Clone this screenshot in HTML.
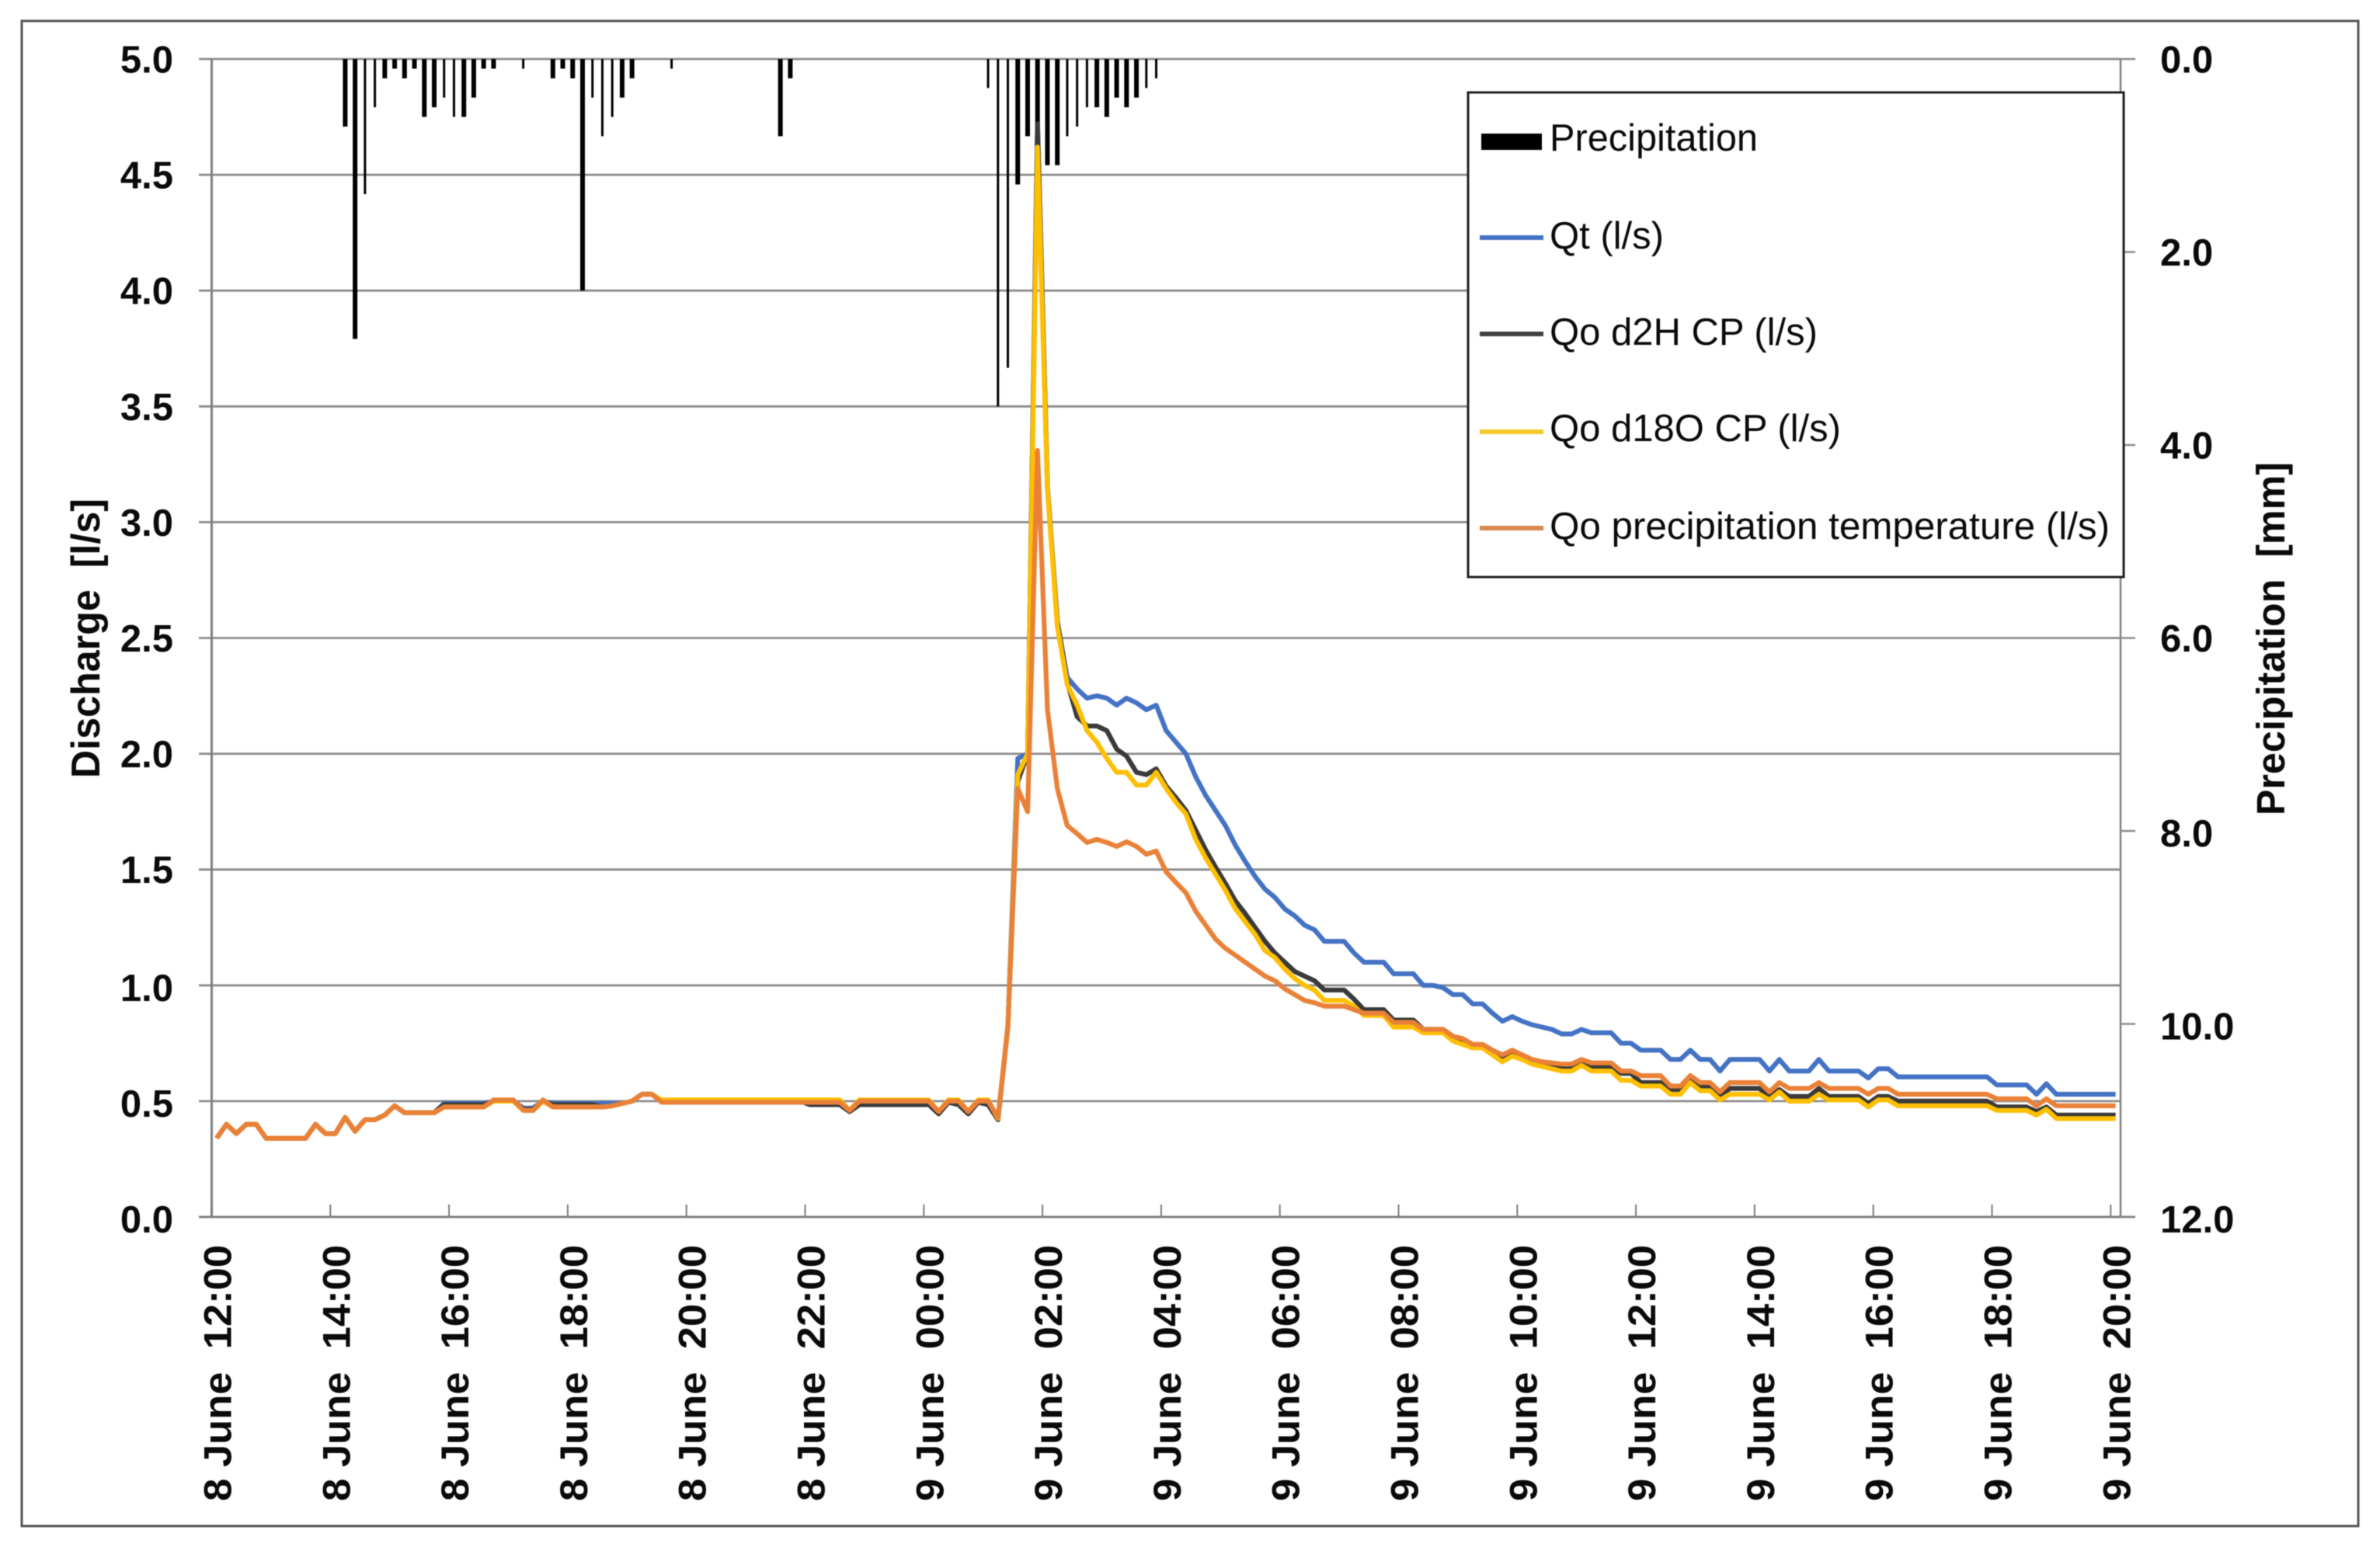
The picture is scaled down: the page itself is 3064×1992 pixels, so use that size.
<!DOCTYPE html>
<html lang="en">
<head>
<meta charset="utf-8">
<title>Discharge and precipitation, 8–9 June</title>
<style>
html,body{margin:0;padding:0;background:#fff;}
svg{display:block;filter:blur(0.6px);}
text{font-family:"Liberation Sans",Arial,sans-serif;fill:#0a0a0a;white-space:pre;}
.b{font-weight:bold;}
</style>
</head>
<body>
<svg id="chart" xmlns="http://www.w3.org/2000/svg" width="3064" height="1992" viewBox="0 0 3064 1992">
<rect x="0" y="0" width="3064" height="1992" fill="#fff"/>
<rect x="28" y="27" width="3008" height="1938" fill="#fff" stroke="#555" stroke-width="3"/>
<g id="grid"></g>
<g id="bars"></g>
<g id="axes"></g>
<g id="lines"></g>
<g id="labels"></g>
<text class="b" font-size="52" transform="translate(128,1002) rotate(-90)" textLength="360" lengthAdjust="spacingAndGlyphs">Discharge  [l/s]</text>
<text class="b" font-size="51" transform="translate(2941,1050) rotate(-90)" textLength="455" lengthAdjust="spacingAndGlyphs">Precipitation  [mm]</text>
<g>
<rect x="1890" y="119" width="844" height="624" fill="#fff" stroke="#222" stroke-width="3"/>
<rect x="1907" y="172" width="78" height="21" fill="#000"/>
<text x="1995" y="194" font-size="49" textLength="268" lengthAdjust="spacingAndGlyphs">Precipitation</text>
<line x1="1905" y1="306" x2="1987" y2="306" stroke="#4472c4" stroke-width="6"/>
<text x="1995" y="320" font-size="49">Qt (l/s)</text>
<line x1="1905" y1="430" x2="1987" y2="430" stroke="#404040" stroke-width="6"/>
<text x="1995" y="444" font-size="49">Qo d2H CP (l/s)</text>
<line x1="1905" y1="556" x2="1987" y2="556" stroke="#f2c92a" stroke-width="6"/>
<text x="1995" y="568" font-size="49">Qo d18O CP (l/s)</text>
<line x1="1905" y1="680" x2="1987" y2="680" stroke="#d9874a" stroke-width="6"/>
<text x="1995" y="694" font-size="49" textLength="721" lengthAdjust="spacingAndGlyphs">Qo precipitation temperature (l/s)</text>
</g>
</svg>
<script>
var dischargeTicks = [0, 0.5, 1, 1.5, 2, 2.5, 3, 3.5, 4, 4.5, 5];
var precipTicks = [0, 2, 4, 6, 8, 10, 12];
var timeLabels = ['8 June  12:00','8 June  14:00','8 June  16:00','8 June  18:00','8 June  20:00','8 June  22:00','9 June  00:00','9 June  02:00','9 June  04:00','9 June  06:00','9 June  08:00','9 June  10:00','9 June  12:00','9 June  14:00','9 June  16:00','9 June  18:00','9 June  20:00'];
var precipIndex = [13,14,15,16,17,18,19,20,21,22,23,24,25,26,27,28,31,34,35,36,37,38,39,40,41,42,46,57,58,78,79,80,81,82,83,84,85,86,87,88,89,90,91,92,93,94,95];
var precipValues = [0.7,2.9,1.4,0.5,0.2,0.1,0.2,0.1,0.6,0.5,0.4,0.6,0.6,0.4,0.1,0.1,0.1,0.2,0.1,0.2,2.4,0.4,0.8,0.6,0.4,0.2,0.1,0.8,0.2,0.3,3.6,3.2,1.3,0.8,1.0,1.1,1.1,0.8,0.7,0.5,0.5,0.6,0.4,0.5,0.4,0.3,0.2];
var qt = [
.34,.40,.36,.40,.40,.34,.34,.34,.34,.34,
.40,.36,.36,.43,.37,.42,.42,.44,.48,.45,
.45,.45,.45,.49,.49,.49,.49,.49,.50,.50,
.50,.47,.47,.50,.49,.49,.49,.49,.49,.49,
.49,.49,.50,.53,.53,.50,.50,.50,.50,.50,
.50,.50,.50,.50,.50,.50,.50,.50,.50,.50,
.49,.49,.49,.49,.46,.49,.49,.49,.49,.49,
.49,.49,.49,.45,.50,.49,.45,.50,.49,.42,
.82,1.98,2.00,4.72,3.15,2.57,2.33,2.28,2.24,2.25,
2.24,2.21,2.24,2.22,2.19,2.21,2.10,2.05,2.00,1.90,
1.82,1.755,1.69,1.605,1.535,1.47,1.415,1.38,1.33,1.30,
1.26,1.24,1.19,1.19,1.19,1.14,1.10,1.10,1.10,1.05,
1.05,1.05,1.00,1.00,.99,.96,.96,.92,.92,.88,
.845,.865,.845,.83,.82,.81,.79,.79,.81,.795,
.795,.795,.75,.75,.72,.72,.72,.68,.68,.72,
.68,.68,.63,.68,.68,.68,.68,.63,.68,.63,
.63,.63,.68,.63,.63,.63,.63,.60,.64,.64,
.605,.605,.605,.605,.605,.605,.605,.605,.605,.605,
.57,.57,.57,.57,.53,.575,.53,.53,.53,.53,
.53,.53,.53];
var qoD2H = [
.34,.40,.36,.40,.40,.34,.34,.34,.34,.34,
.40,.36,.36,.43,.37,.42,.42,.44,.48,.45,
.45,.45,.45,.485,.485,.485,.485,.485,.50,.50,
.50,.465,.465,.50,.485,.485,.485,.485,.485,.475,
.48,.49,.50,.53,.53,.50,.50,.50,.50,.50,
.50,.50,.50,.50,.50,.50,.50,.50,.50,.50,
.485,.485,.485,.485,.455,.485,.485,.485,.485,.485,
.485,.485,.485,.445,.495,.485,.445,.495,.485,.42,
.82,1.88,2.00,4.72,3.15,2.57,2.31,2.16,2.12,2.12,
2.10,2.02,1.99,1.92,1.91,1.935,1.86,1.81,1.755,1.67,
1.585,1.51,1.44,1.365,1.31,1.25,1.19,1.14,1.10,1.06,
1.04,1.02,.98,.98,.98,.94,.895,.895,.895,.85,
.85,.85,.81,.81,.81,.78,.76,.74,.74,.72,
.69,.70,.68,.67,.66,.65,.64,.64,.67,.65,
.65,.65,.62,.62,.58,.58,.58,.55,.55,.59,
.56,.56,.515,.555,.555,.555,.555,.515,.55,.52,
.52,.52,.555,.52,.52,.52,.52,.49,.52,.52,
.50,.50,.50,.50,.50,.50,.50,.50,.50,.50,
.475,.475,.475,.475,.455,.475,.44,.44,.44,.44,
.44,.44,.44];
var qoD18O = [
.34,.40,.36,.40,.40,.34,.34,.34,.34,.34,
.40,.36,.36,.43,.37,.42,.42,.44,.48,.45,
.45,.45,.45,.475,.475,.475,.475,.475,.50,.50,
.50,.46,.46,.50,.475,.475,.475,.475,.475,.475,
.48,.49,.50,.53,.53,.505,.505,.505,.505,.505,
.505,.505,.505,.505,.505,.505,.505,.505,.505,.505,
.505,.505,.505,.505,.46,.505,.505,.505,.505,.505,
.505,.505,.505,.455,.505,.505,.455,.505,.505,.425,
.82,1.91,2.00,4.62,3.14,2.55,2.30,2.21,2.10,2.05,
1.98,1.92,1.92,1.865,1.865,1.92,1.85,1.79,1.74,1.63,
1.55,1.48,1.41,1.33,1.275,1.22,1.15,1.12,1.07,1.03,
1.00,.98,.935,.935,.935,.91,.87,.87,.87,.82,
.82,.82,.795,.795,.795,.76,.745,.73,.73,.70,
.67,.695,.68,.66,.65,.64,.63,.63,.655,.63,
.63,.63,.59,.59,.565,.565,.565,.53,.53,.58,
.545,.545,.505,.53,.53,.53,.53,.505,.54,.50,
.50,.50,.53,.505,.505,.505,.505,.475,.505,.505,
.48,.48,.48,.48,.48,.48,.48,.48,.48,.48,
.46,.46,.46,.46,.44,.465,.425,.425,.425,.425,
.425,.425,.425];
var qoTemperature = [
.34,.40,.36,.40,.40,.34,.34,.34,.34,.34,
.40,.36,.36,.43,.37,.42,.42,.44,.48,.45,
.45,.45,.45,.475,.475,.475,.475,.475,.505,.505,
.505,.46,.46,.505,.475,.475,.475,.475,.475,.475,
.48,.49,.50,.53,.53,.495,.495,.495,.495,.495,
.495,.495,.495,.495,.495,.495,.495,.495,.495,.495,
.495,.495,.495,.495,.46,.50,.50,.50,.50,.50,
.50,.50,.50,.455,.50,.50,.455,.50,.50,.43,
.82,1.85,1.75,3.31,2.19,1.85,1.69,1.655,1.617,1.63,
1.617,1.60,1.62,1.60,1.566,1.58,1.49,1.444,1.40,1.32,
1.26,1.20,1.16,1.13,1.10,1.07,1.04,1.02,.985,.96,
.935,.925,.91,.91,.91,.895,.88,.88,.88,.84,
.84,.84,.81,.81,.81,.78,.77,.745,.745,.72,
.70,.72,.70,.68,.67,.665,.66,.66,.68,.665,
.665,.665,.63,.63,.61,.61,.61,.565,.565,.61,
.58,.58,.54,.58,.58,.58,.58,.54,.58,.555,
.555,.555,.58,.555,.555,.555,.555,.53,.555,.555,
.53,.53,.53,.53,.53,.53,.53,.53,.53,.53,
.51,.51,.51,.51,.48,.51,.48,.48,.48,.48,
.48,.48,.48];

var NS = 'http://www.w3.org/2000/svg';
var plotLeft = 272.5, plotRight = 2730, plotTop = 76, plotBottom = 1567;
var step = (plotRight - plotLeft) / qt.length;
function xCat(i) { return plotLeft + step * (i + 0.5); }
function xEdge(i) { return plotLeft + step * i; }
function yDischarge(v) { return plotBottom - (plotBottom - plotTop) * v / 5; }
function yPrecip(v) { return plotTop + (plotBottom - plotTop) * v / 12; }
function make(tag, parent, attrs, text) {
  var el = document.createElementNS(NS, tag);
  for (var k in attrs) { el.setAttribute(k, attrs[k]); }
  if (text !== undefined) { el.textContent = text; }
  parent.appendChild(el);
  return el;
}
var gGrid = document.getElementById('grid');
var gBars = document.getElementById('bars');
var gAxes = document.getElementById('axes');
var gLines = document.getElementById('lines');
var gLabels = document.getElementById('labels');

dischargeTicks.forEach(function (t) {
  var y = yDischarge(t);
  if (t > 0) {
    var gl = make('line', gGrid, {x1: plotLeft, y1: y, x2: plotRight, y2: y, stroke: '#8c8c8c', 'stroke-width': 2.8});
    
    
  }
  var tk = make('line', gAxes, {x1: 256, y1: y, x2: plotLeft, y2: y, stroke: '#8c8c8c', 'stroke-width': 2.8});
  
  
  var lb = make('text', gLabels, {x: 223, y: y + (t >= 1.5 ? 17.5 : 20), 'text-anchor': 'end', 'font-size': 49, 'class': 'b'}, t.toFixed(1));
  
  
});

precipIndex.forEach(function (idx, n) {
  var m = idx % 8;
  var thin = m === 7 || m === 0 || (m === 6 && idx > 30);
  var w = thin ? 3 : 6;
  var bar = make('rect', gBars, {x: xCat(idx) - w / 2, y: plotTop, width: w, height: yPrecip(precipValues[n]) - plotTop, fill: '#000'});
  
  
});

var leftAxis = make('line', gAxes, {x1: plotLeft, y1: plotTop, x2: plotLeft, y2: plotBottom, stroke: '#808080', 'stroke-width': 3});


var rightAxis = make('line', gAxes, {x1: plotRight, y1: plotTop, x2: plotRight, y2: plotBottom, stroke: '#808080', 'stroke-width': 2.5});


var xAxis = make('line', gAxes, {x1: 256, y1: plotBottom, x2: 2749, y2: plotBottom, stroke: '#808080', 'stroke-width': 3});



precipTicks.forEach(function (t) {
  var y = yPrecip(t);
  var tk = make('line', gAxes, {x1: plotRight, y1: y, x2: 2749, y2: y, stroke: '#8c8c8c', 'stroke-width': 2.5});
  
  
  var lb = make('text', gLabels, {x: 2781, y: y + (t <= 6 ? 17.5 : 20), 'font-size': 49, 'class': 'b'}, t.toFixed(1));
  
  
});

timeLabels.forEach(function (label, n) {
  var x = xEdge(n * 12);
  var tk = make('line', gAxes, {x1: x, y1: plotBottom - 16, x2: x, y2: plotBottom, stroke: '#7a7a7a', 'stroke-width': 2});
  
  
  var lb = make('text', gLabels, {transform: 'translate(' + (x + 25) + ',1933) rotate(-90)', 'font-size': 50, 'class': 'b', textLength: 330, lengthAdjust: 'spacingAndGlyphs'}, label);
  
  
});

function drawSeries(values, colour, width) {
  var pts = values.map(function (v, i) { return xCat(i).toFixed(1) + ',' + yDischarge(v).toFixed(1); }).join(' ');
  return make('polyline', gLines, {points: pts, fill: 'none', stroke: colour, 'stroke-width': width, 'stroke-linejoin': 'round'});
}
var lineQt = drawSeries(qt, '#4472c4', 6.2);


var lineD2H = drawSeries(qoD2H, '#3a3a3a', 6.2);


var lineD18O = drawSeries(qoD18O, '#fdbf00', 6.2);


var lineTemp = drawSeries(qoTemperature, '#e98138', 6.2);


</script>
</body>
</html>
